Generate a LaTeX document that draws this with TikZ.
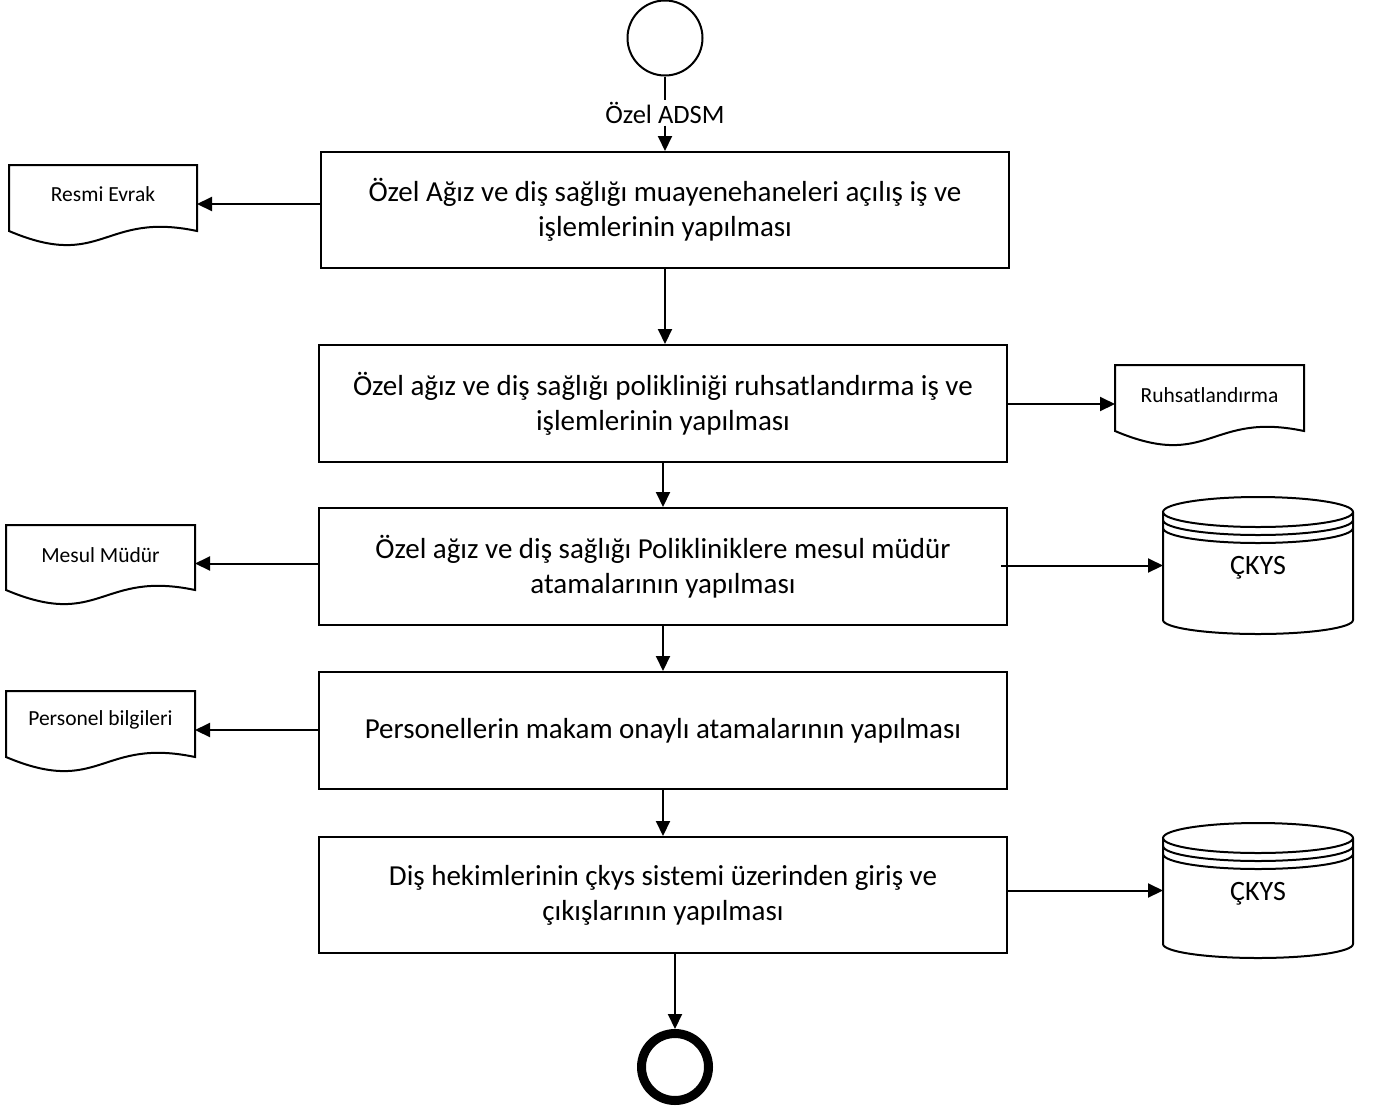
\documentclass[tikz,border=0pt]{standalone}
\usepackage{fontspec}
\setmainfont{Carlito}
\usetikzlibrary{arrows.meta,calc}
\tikzset{
  every path/.style={line width=2pt},
  arr/.style={-{Triangle[length=15pt,width=14pt]}, line width=2pt},
  procbox/.style={draw, line width=2pt, rectangle, inner sep=0pt, align=center,
     font=\fontsize{29}{35}\selectfont},
  docbody/.style={rectangle, inner sep=0pt, outer sep=0pt},
  doctext/.style={inner sep=0pt, font=\fontsize{21.5}{25}\selectfont},
  cyltext/.style={inner sep=0pt, font=\fontsize{28}{32}\selectfont},
}
% #1 name, #2 L, #3 T, #4 R, #5 B(side bottom), #6 text y, #7 text
\newcommand\mkdoc[7]{%
  \node[docbody, minimum width={#4-#2}, minimum height={#5+12-#3}] (#1) at ({(#2+#4)/2},{(#3+#5+12)/2}) {};
  \draw (#2,#3) -- (#4,#3) -- (#4,#5) .. controls ({(#2+#4)/2},{#5-20}) and ({(#2+#4)/2},{#5+40}) .. (#2,#5) -- cycle;
  \node[doctext] (#1t) at ({(#2+#4)/2},#6) {#7};
}
% #1 name, #2 L, #3 R, #4 top y, #5 bottom y, #6 text y, #7 text
\newcommand\mkcyl[7]{%
  \node[docbody, minimum width={#3-#2}, minimum height={#5-#4}] (#1) at ({(#2+#3)/2},{(#4+#5)/2}) {};
  \draw ({(#2+#3)/2},{#4+15}) ellipse [x radius={(#3-#2)/2}, y radius=15];
  \draw (#2,{#4+23}) arc [start angle=180, end angle=0, x radius={(#3-#2)/2}, y radius=15];
  \draw (#2,{#4+31}) arc [start angle=180, end angle=0, x radius={(#3-#2)/2}, y radius=15];
  \draw (#2,{#4+15}) -- (#2,{#5-14}) arc [start angle=180, end angle=0, x radius={(#3-#2)/2}, y radius=14] -- (#3,{#4+15});
  \node[cyltext] (#1t) at ({(#2+#3)/2},#6) {#7};
}
\begin{document}
\begin{tikzpicture}[x=1pt,y=-1pt]
\useasboundingbox (0,0) rectangle (1379,1112);

% start / end
\node[draw, circle, line width=2pt, minimum size=75pt, inner sep=0pt] (start) at (665,38) {};
\node[inner sep=1pt, font=\fontsize{26.5}{30}\selectfont] (lbl) at (665,113) {Özel ADSM};
\node[draw, circle, line width=9pt, minimum size=67pt, inner sep=0pt] (end) at (675,1067) {};

% process boxes
\node[procbox, minimum width=688pt, minimum height=116pt] (b1) at (665,210)
  {Özel Ağız ve diş sağlığı muayenehaneleri açılış iş ve\\ işlemlerinin yapılması};
\node[procbox, minimum width=688pt, minimum height=117pt] (b2) at (663,403.5)
  {Özel ağız ve diş sağlığı polikliniği ruhsatlandırma iş ve\\ işlemlerinin yapılması};
\node[procbox, minimum width=688pt, minimum height=117pt] (b3) at (663,566.5)
  {Özel ağız ve diş sağlığı Polikliniklere mesul müdür\\ atamalarının yapılması};
\node[procbox, minimum width=688pt, minimum height=117pt] (b4) at (663,730.5)
  {Personellerin makam onaylı atamalarının yapılması};
\node[procbox, minimum width=688pt, minimum height=116pt] (b5) at (663,895)
  {Diş hekimlerinin çkys sistemi üzerinden giriş ve\\ çıkışlarının yapılması};

% documents
\mkdoc{resmi}{9}{165}{197}{231}{194}{Resmi Evrak}
\mkdoc{ruhs}{1115}{365}{1304}{431}{395}{Ruhsatlandırma}
\mkdoc{mesul}{6}{525}{195}{590}{555}{Mesul Müdür}
\mkdoc{pers}{6}{691}{195}{757}{720}{Personel bilgileri}

% databases
\mkcyl{cyl1}{1163}{1353}{497}{634}{568}{ÇKYS}
\mkcyl{cyl2}{1163}{1353}{823}{958}{894}{ÇKYS}

% connectors
\draw (start.south) -- (lbl.north);
\draw[arr] (lbl.south) -- (b1.north);
\draw[arr] (b1.south) -- (b1.south |- b2.north);
\draw[arr] (b2.south) -- (b3.north);
\draw[arr] (b3.south) -- (b4.north);
\draw[arr] (b4.south) -- (b5.north);
\draw[arr] (end.north |- b5.south) -- (end.north);

\draw[arr] (resmi.east -| b1.west) -- (resmi.east);
\draw[arr] (ruhs.west -| b2.east) -- (ruhs.west);
\draw[arr] (mesul.east -| b3.west) -- (mesul.east);
\draw[arr] ([xshift=-7pt]cyl1.west -| b3.east) -- (cyl1.west);
\draw[arr] (pers.east -| b4.west) -- (pers.east);
\draw[arr] (cyl2.west -| b5.east) -- (cyl2.west);
\end{tikzpicture}
\end{document}
